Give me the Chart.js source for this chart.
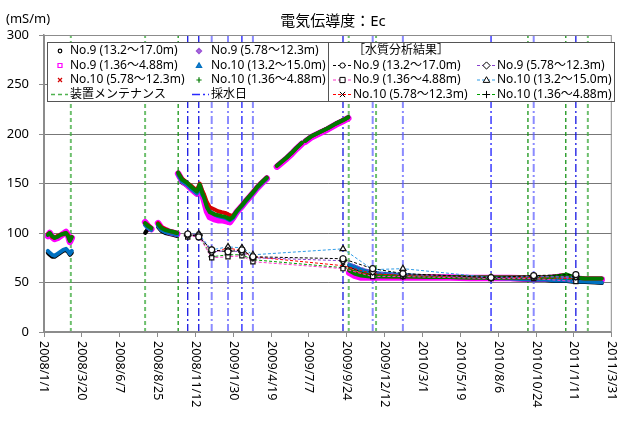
<!DOCTYPE html>
<html><head><meta charset="utf-8">
<script src="https://cdn.jsdelivr.net/npm/chart.js@4/dist/chart.umd.min.js"></script>
<style>html,body{margin:0;padding:0;background:#fff}#wrap{width:617px;height:423px}</style>
</head><body><div id="wrap"><canvas id="c" width="617" height="423"></canvas></div>
<script>
const FONT = "'Noto Sans','Noto Sans CJK JP',sans-serif";
const titleText = '電気伝導度：Ec';
const unitText = '(mS/m)';
const legendGroupTitle = '［水質分析結果］';
const maintLabel = '装置メンテナンス';
const sampleLabel = '採水日';
const xTickLabels = ['2008/1/1','2008/3/20','2008/6/7','2008/8/25','2008/11/12','2009/1/30','2009/4/19','2009/7/7','2009/9/24','2009/12/12','2010/3/1','2010/5/19','2010/8/6','2010/10/24','2011/1/11','2011/3/31'];
const yMin = 0, yMax = 300, yStep = 50;

const seriesNames = ['No.9 (13.2～17.0m)','No.9 (5.78～12.3m)','No.9 (1.36～4.88m)','No.10 (13.2～15.0m)','No.10 (5.78～12.3m)','No.10 (1.36～4.88m)'];

// continuous monitoring (null = no data)
const monDates = [
'2008-01-09','2008-01-13','2008-01-18','2008-01-23','2008-01-29','2008-02-04','2008-02-10','2008-02-16','2008-02-20','2008-02-24','2008-02-28',
'2008-05-10',
'2008-07-30','2008-08-05','2008-08-12',
'2008-08-18',
'2008-08-26','2008-09-02','2008-09-10','2008-09-19','2008-09-28','2008-10-05',
'2008-10-06',
'2008-10-07','2008-10-15','2008-10-25','2008-11-05','2008-11-15','2008-11-21','2008-11-26','2008-11-30','2008-12-06','2008-12-12','2008-12-21','2008-12-29','2009-01-06','2009-01-15','2009-01-23','2009-01-29','2009-02-06','2009-02-17','2009-02-27','2009-03-10','2009-03-20','2009-03-30','2009-04-10',
'2009-04-20',
'2009-05-01','2009-05-11','2009-05-21','2009-06-01','2009-06-11','2009-06-22',
'2009-06-25',
'2009-06-29','2009-07-13','2009-07-30','2009-08-16','2009-09-01','2009-09-16','2009-09-27',
'2009-09-28',
'2009-09-29','2009-10-10','2009-10-24','2009-11-11','2009-12-02','2010-01-02','2010-02-03','2010-03-17','2010-04-27','2010-06-08','2010-07-20','2010-08-31','2010-10-12','2010-11-12','2010-12-03','2010-12-17','2010-12-27','2011-01-13','2011-02-03','2011-02-24','2011-03-10'
];
const monNo9_13 = [
80,78,76,76,78,80,82,83,81,78,80, null,
100,104,103, null,
106,102,100,99,98,97, null,
158,151,148,143,139,145,138,135,127,121,118,116,115,114,112,114,120,126,132,138,144,149,154, null,
167,171,175,180,185,190, null,
192,197,201,205,209.5,213,216, null,
67,65,62,60,58.5,57.5,56.5,55.5,55,54.5,54,53.5,52.5,52.5,51.5,51.5,51.5,50.5,50.5,50,49.5
];
const monNo9_5 = [
98,99,96,95,96,97,99,100,97,92,95, null,
109,106,104, null,
108,105,103,101,100,99, null,
160,154,150,145,141,148,140,135,125,120,118,117,116,115,114,116,122,128,134,140,146,151,156, null,
168,172,176,181,186,191, null,
193,198,202,206,210.5,214,217, null,
61,58,56.5,56,55.5,55.5,55.5,55,55,55,55,55,54.5,54.5,55.5,56.5,57,55,54,53.5,53.5
];
const monNo9_1 = [
97,100,96,94,95,97,99,101,98,91,95, null,
111,107,104, null,
110,105,103,101,100,99, null,
160,153,149,144,140,146,139,133,122,116,114,113,113,112,111,115,121,127,133,139,145,150,155, null,
167,171,175,180,185,190, null,
192,197,201,205,209.5,213,216, null,
60,57,55,55,55,55,55,55,55,54.5,54.5,54.5,54,54,55,56,56,54,53,53,53
];
const monNo10_13 = [
82,80,78,77,79,81,83,84,82,79,82, null,
108,105,103, null,
107,103,101,100,99,98, null,
159,152,149,144,140,146,139,136,128,122,119,117,116,115,113,115,121,127,133,139,145,150,155, null,
168,172,176,181,186,191, null,
193,198,202,206,210.5,214,217, null,
68,66,63,61,59,58,57,56,55.5,55,54.5,54,53,53,52,52,52,51,51,50.5,50
];
const monNo10_5 = [
99,100,96,95,97,98,99,100,98,93,96, null,
110,108,105, null,
110,106,104,102,101,100, null,
161,155,151,147,143,150,143,139,131,126,124,122,121,120,118,117,122,128,134,140,146,151,156, null,
168,172,176,181,186,191, null,
193,198,202,206,210.5,214,217, null,
63,60,58,57,56.5,56,56,56,55.5,55,55,55,55,55,56,57,57,55,54,54,54
];
const monNo10_1 = [
98,100,97,95,96,98,99,100,97,92,96, null,
110,107,105, null,
109,105,103,102,101,100, null,
161,154,151,146,142,149,141,136,126,121,119,118,117,116,114,116,122,128,134,140,146,151,156, null,
168,172,176,181,186,191, null,
193,198,202,206,210.5,214,217, null,
62,59,57,56,56,56,56,55.5,55.5,55,55,55,55,55,56,57,58,55,54,54,54
];

// water quality analysis (sampling dates)
const sampleDates = ['2008-10-27','2008-11-19','2008-12-16','2009-01-19','2009-02-17','2009-03-12','2009-09-16','2009-11-17','2010-01-19','2010-07-22','2010-10-19','2011-01-15'];
const labNo9_13  = [99,96,83,81,83,76,74,64,59,55,57,58];
const labNo9_5   = [98,98,81,82,81,75,72,61,58,55,56,56];
const labNo9_1   = [96,97,75,76,77,71,64,56,56,54,54,51];
const labNo10_13 = [99,99,83,86,85,78,84,63,64,55,56,55];
const labNo10_5  = [98,99,80,85,82,76,67,59,57,55,55,54];
const labNo10_1  = [97,98,76,78,78,73,65,58,56,55,55,53];

// equipment maintenance dates
const maintDates = ['2008-02-26','2008-07-30','2008-10-07','2009-09-28','2009-11-24','2010-10-07','2010-12-25','2011-02-09'];
const maintShade = ['light','light','dark','light','light','dark','dark','light'];
const sampleShade = ['dark','dark','light','light','mid','light','dark','light','light','mid','light','dark'];

// ---------- build ----------
const D0 = Date.UTC(2008,0,1);
function dayOf(s){ const p = s.split(/[-\/]/).map(Number); return (Date.UTC(p[0],p[1]-1,p[2]) - D0)/86400000; }
const xMaxDay = dayOf(xTickLabels[xTickLabels.length-1]);

const monSeries = [monNo9_13, monNo9_5, monNo9_1, monNo10_13, monNo10_5, monNo10_1];
const labSeries = [labNo9_13, labNo9_5, labNo9_1, labNo10_13, labNo10_5, labNo10_1];
const monColors = ['#000000','#9b4fd6','#ff00ff','#0070c0','#d40000','#007a00'];
const monWidths = [4,4,6.5,4,4,4];
const monOrder  = [16,15,14,13,12,11];
const monMarks  = ['circle','rectRot','rect','triangle','crossRot','cross'];
const labColors = ['#000000','#8a3fd0','#ff33cc','#2e9be6','#ff0000','#00a000'];

const datasets = [];
monSeries.forEach((vals, s) => {
  datasets.push({
    data: monDates.map((d,i) => ({x: dayOf(d), y: vals[i]})),
    showLine: true, borderColor: monColors[s], backgroundColor: monColors[s],
    borderWidth: monWidths[s], pointRadius: 0, spanGaps: false,
    borderCapStyle: 'round', borderJoinStyle: 'round', order: monOrder[s]
  });
});
labSeries.forEach((vals, s) => {
  datasets.push({
    data: sampleDates.map((d,i) => ({x: dayOf(d), y: vals[i]})),
    showLine: true, borderColor: labColors[s], borderWidth: 1, borderDash: [3,2],
    pointStyle: monMarks[s], pointRadius: (s===1||s===3||s===5)?3.5:3,
    pointBorderColor: '#111', pointBackgroundColor: '#fff', pointBorderWidth: 1.2,
    order: 1 + s
  });
});
const shadeStyles = {
  maint: {light: {c:'rgba(60,170,60,0.75)', w:2}, dark: {c:'#008a00', w:1.2}},
  sample: {light: {c:'rgba(90,90,255,0.7)', w:2}, mid: {c:'#3a3aff', w:1.5}, dark: {c:'#0000e0', w:1.2}}
};
maintDates.forEach((d,i) => {
  const st = shadeStyles.maint[maintShade[i]];
  datasets.push({ data: [{x: dayOf(d), y: yMin}, {x: dayOf(d), y: yMax}], showLine: true,
    borderColor: st.c, borderWidth: st.w, borderDash: [4,3], pointRadius: 0, order: 100 });
});
sampleDates.forEach((d,i) => {
  const st = shadeStyles.sample[sampleShade[i]];
  datasets.push({ data: [{x: dayOf(d), y: yMin}, {x: dayOf(d), y: yMax}], showLine: true,
    borderColor: st.c, borderWidth: st.w, borderDash: [8,3,2,3], pointRadius: 0, order: 100 });
});

function marker(ctx, style, x, y, r, stroke, fill, lw) {
  ctx.save(); ctx.beginPath(); ctx.setLineDash([]);
  ctx.strokeStyle = stroke; ctx.fillStyle = fill; ctx.lineWidth = lw || 1;
  switch (style) {
    case 'circle': ctx.arc(x,y,r,0,Math.PI*2); ctx.fill(); ctx.stroke(); break;
    case 'rect': ctx.rect(x-r,y-r,2*r,2*r); ctx.fill(); ctx.stroke(); break;
    case 'rectRot': ctx.moveTo(x,y-r*1.2); ctx.lineTo(x+r*1.2,y); ctx.lineTo(x,y+r*1.2); ctx.lineTo(x-r*1.2,y); ctx.closePath(); ctx.fill(); ctx.stroke(); break;
    case 'triangle': ctx.moveTo(x,y-r*1.1); ctx.lineTo(x+r*1.1,y+r*0.8); ctx.lineTo(x-r*1.1,y+r*0.8); ctx.closePath(); ctx.fill(); ctx.stroke(); break;
    case 'crossRot': ctx.moveTo(x-r,y-r); ctx.lineTo(x+r,y+r); ctx.moveTo(x+r,y-r); ctx.lineTo(x-r,y+r); ctx.stroke(); break;
    case 'cross': ctx.moveTo(x-r*1.2,y); ctx.lineTo(x+r*1.2,y); ctx.moveTo(x,y-r*1.2); ctx.lineTo(x,y+r*1.2); ctx.stroke(); break;
  }
  ctx.restore();
}

const deco = {
  id: 'deco',
  afterDraw(chart) {
    const {ctx, chartArea: a} = chart;
    const xs = chart.scales.x;
    ctx.save();
    ctx.setLineDash([]);
    ctx.strokeStyle = '#8c8c8c'; ctx.lineWidth = 1;
    ctx.strokeRect(a.left + 0.5, a.top + 0.5, a.right - a.left - 1, a.bottom - a.top - 1);
    ctx.fillStyle = '#000';
    ctx.font = '15px ' + FONT; ctx.textAlign = 'center'; ctx.textBaseline = 'middle';
    ctx.fillText(titleText, 333, 22);
    ctx.font = '13px ' + FONT; ctx.textAlign = 'left';
    ctx.fillText(unitText, 6, 19);
    // x tick labels, rotated clockwise
    ctx.font = '12.5px ' + FONT;
    xs.ticks.forEach((t, i) => {
      const px = xs.getPixelForValue(t.value);
      ctx.save(); ctx.translate(px, a.bottom + 9); ctx.rotate(Math.PI/2);
      ctx.textAlign = 'left'; ctx.textBaseline = 'middle'; ctx.fillStyle = '#000';
      ctx.fillText(xTickLabels[i], 0, 0); ctx.restore();
    });
    // legend boxes
    ctx.fillStyle = '#fff'; ctx.strokeStyle = '#555';
    ctx.fillRect(47.5, 42.5, 281, 59); ctx.strokeRect(47.5, 42.5, 281, 59);
    ctx.fillRect(328.5, 42.5, 286, 59); ctx.strokeRect(328.5, 42.5, 286, 59);
    ctx.font = '12px ' + FONT; ctx.textBaseline = 'middle'; ctx.textAlign = 'left';
    const rows = [51, 65.5, 80, 94.5];
    const lFill = ['#fff','#a070d8','#fff','#1f7fd0','#fff','#fff'];
    const lR = [1.8,2.2,2,2.4,2,2.2];
    for (let s = 0; s < 6; s++) {
      const col = s % 2, row = Math.floor(s / 2);
      const mx = col ? 199 : 60, tx = col ? 211 : 70;
      marker(ctx, monMarks[s], mx, rows[row], lR[s], monColors[s], lFill[s], 1.2);
      ctx.fillStyle = '#000'; ctx.fillText(seriesNames[s], tx, rows[row]);
    }
    ctx.save(); ctx.lineWidth = 1.5;
    ctx.strokeStyle = 'rgba(60,170,60,0.9)'; ctx.setLineDash([4,3]);
    ctx.beginPath(); ctx.moveTo(51, rows[3]); ctx.lineTo(68, rows[3]); ctx.stroke();
    ctx.strokeStyle = '#2a2aff'; ctx.setLineDash([8,3,2,3]);
    ctx.beginPath(); ctx.moveTo(192, rows[3]); ctx.lineTo(209, rows[3]); ctx.stroke();
    ctx.restore();
    ctx.fillStyle = '#000';
    ctx.fillText(maintLabel, 70, rows[3]);
    ctx.fillText(sampleLabel, 211, rows[3]);
    // right legend
    ctx.fillText(legendGroupTitle, 353, rows[0]);
    for (let s = 0; s < 6; s++) {
      const col = s % 2, row = Math.floor(s / 2) + 1;
      const x0 = col ? 477 : 333, tx = col ? 497 : 353;
      ctx.save(); ctx.strokeStyle = labColors[s]; ctx.lineWidth = 1.2; ctx.setLineDash([3,2]);
      ctx.beginPath(); ctx.moveTo(x0, rows[row]); ctx.lineTo(x0 + 19, rows[row]); ctx.stroke(); ctx.restore();
      marker(ctx, monMarks[s], x0 + 9.5, rows[row], (s===1||s===3||s===5)?3:2.6, '#000', '#fff', 1);
      ctx.fillStyle = '#000'; ctx.fillText(seriesNames[s], tx, rows[row]);
    }
    ctx.restore();
  }
};

new Chart(document.getElementById('c'), {
  type: 'scatter',
  data: { datasets },
  options: {
    responsive: false, animation: false,
    layout: { padding: { top: 35, right: 5, left: 0, bottom: 0 } },
    plugins: { legend: { display: false }, tooltip: { enabled: false }, title: { display: false } },
    scales: {
      x: {
        type: 'linear', min: 0, max: xMaxDay,
        afterBuildTicks: (s) => { s.ticks = xTickLabels.map(l => ({ value: dayOf(l) })); },
        afterFit: (s) => { s.height = 91; },
        ticks: { display: false },
        grid: { drawOnChartArea: false, drawTicks: true, tickLength: 5, tickColor: '#8c8c8c' },
        border: { display: true, color: '#8c8c8c', width: 1 }
      },
      y: {
        min: yMin, max: yMax,
        ticks: { stepSize: yStep, padding: 10, color: '#000', font: { family: FONT, size: 13 } },
        afterFit: (s) => { s.width = 44; },
        grid: {
          color: (c) => (c.tick && (c.tick.value === yMin || c.tick.value === yMax)) ? 'rgba(0,0,0,0)' : '#777',
          borderDash: [2,2], tickColor: '#8c8c8c', tickBorderDash: [], tickLength: 5, lineWidth: 1
        },
        border: { display: true, color: '#8c8c8c', width: 1.5 }
      }
    }
  },
  plugins: [deco]
});
</script></body></html>
